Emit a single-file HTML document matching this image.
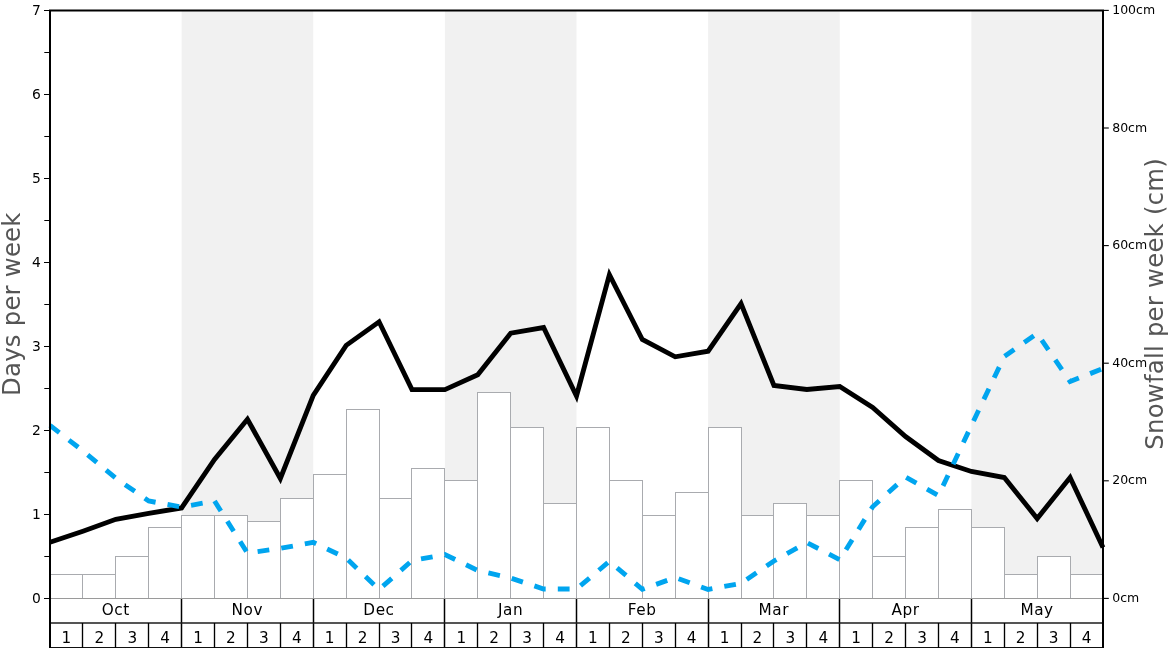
<!DOCTYPE html>
<html><head><meta charset="utf-8"><title>Snowfall chart</title>
<style>html,body{margin:0;padding:0;background:#fff;overflow:hidden}svg{display:block}</style></head>
<body>
<svg width="1168" height="648" viewBox="0 0 1168 648" font-family="'DejaVu Sans', 'Liberation Sans', sans-serif">
<rect width="1168" height="648" fill="#fff"/>
<rect x="181.62" y="10" width="131.62" height="588.40" fill="#f1f1f1"/>
<rect x="444.88" y="10" width="131.62" height="588.40" fill="#f1f1f1"/>
<rect x="708.12" y="10" width="131.62" height="588.40" fill="#f1f1f1"/>
<rect x="971.38" y="10" width="131.62" height="588.40" fill="#f1f1f1"/>
<rect x="50.5" y="574.5" width="32.0" height="24.0" fill="#fff" stroke="#a9abaf" stroke-width="1"/>
<rect x="82.5" y="574.5" width="33.0" height="24.0" fill="#fff" stroke="#a9abaf" stroke-width="1"/>
<rect x="115.5" y="556.5" width="33.0" height="42.0" fill="#fff" stroke="#a9abaf" stroke-width="1"/>
<rect x="148.5" y="527.5" width="33.0" height="71.0" fill="#fff" stroke="#a9abaf" stroke-width="1"/>
<rect x="181.5" y="515.5" width="33.0" height="83.0" fill="#fff" stroke="#a9abaf" stroke-width="1"/>
<rect x="214.5" y="515.5" width="33.0" height="83.0" fill="#fff" stroke="#a9abaf" stroke-width="1"/>
<rect x="247.5" y="521.5" width="33.0" height="77.0" fill="#fff" stroke="#a9abaf" stroke-width="1"/>
<rect x="280.5" y="498.5" width="33.0" height="100.0" fill="#fff" stroke="#a9abaf" stroke-width="1"/>
<rect x="313.5" y="474.5" width="33.0" height="124.0" fill="#fff" stroke="#a9abaf" stroke-width="1"/>
<rect x="346.5" y="409.5" width="33.0" height="189.0" fill="#fff" stroke="#a9abaf" stroke-width="1"/>
<rect x="379.5" y="498.5" width="32.0" height="100.0" fill="#fff" stroke="#a9abaf" stroke-width="1"/>
<rect x="411.5" y="468.5" width="33.0" height="130.0" fill="#fff" stroke="#a9abaf" stroke-width="1"/>
<rect x="444.5" y="480.5" width="33.0" height="118.0" fill="#fff" stroke="#a9abaf" stroke-width="1"/>
<rect x="477.5" y="392.5" width="33.0" height="206.0" fill="#fff" stroke="#a9abaf" stroke-width="1"/>
<rect x="510.5" y="427.5" width="33.0" height="171.0" fill="#fff" stroke="#a9abaf" stroke-width="1"/>
<rect x="543.5" y="503.5" width="33.0" height="95.0" fill="#fff" stroke="#a9abaf" stroke-width="1"/>
<rect x="576.5" y="427.5" width="33.0" height="171.0" fill="#fff" stroke="#a9abaf" stroke-width="1"/>
<rect x="609.5" y="480.5" width="33.0" height="118.0" fill="#fff" stroke="#a9abaf" stroke-width="1"/>
<rect x="642.5" y="515.5" width="33.0" height="83.0" fill="#fff" stroke="#a9abaf" stroke-width="1"/>
<rect x="675.5" y="492.5" width="33.0" height="106.0" fill="#fff" stroke="#a9abaf" stroke-width="1"/>
<rect x="708.5" y="427.5" width="33.0" height="171.0" fill="#fff" stroke="#a9abaf" stroke-width="1"/>
<rect x="741.5" y="515.5" width="32.0" height="83.0" fill="#fff" stroke="#a9abaf" stroke-width="1"/>
<rect x="773.5" y="503.5" width="33.0" height="95.0" fill="#fff" stroke="#a9abaf" stroke-width="1"/>
<rect x="806.5" y="515.5" width="33.0" height="83.0" fill="#fff" stroke="#a9abaf" stroke-width="1"/>
<rect x="839.5" y="480.5" width="33.0" height="118.0" fill="#fff" stroke="#a9abaf" stroke-width="1"/>
<rect x="872.5" y="556.5" width="33.0" height="42.0" fill="#fff" stroke="#a9abaf" stroke-width="1"/>
<rect x="905.5" y="527.5" width="33.0" height="71.0" fill="#fff" stroke="#a9abaf" stroke-width="1"/>
<rect x="938.5" y="509.5" width="33.0" height="89.0" fill="#fff" stroke="#a9abaf" stroke-width="1"/>
<rect x="971.5" y="527.5" width="33.0" height="71.0" fill="#fff" stroke="#a9abaf" stroke-width="1"/>
<rect x="1004.5" y="574.5" width="33.0" height="24.0" fill="#fff" stroke="#a9abaf" stroke-width="1"/>
<rect x="1037.5" y="556.5" width="33.0" height="42.0" fill="#fff" stroke="#a9abaf" stroke-width="1"/>
<rect x="1070.5" y="574.5" width="33.0" height="24.0" fill="#fff" stroke="#a9abaf" stroke-width="1"/>
<line x1="50.0" x2="1103.0" y1="598.5" y2="598.5" stroke="#9a9a9a" stroke-width="1"/>
<rect x="50.0" y="599" width="1053.0" height="49" fill="#fff"/>
<line x1="181.5" x2="181.5" y1="599" y2="648" stroke="#000" stroke-width="1.5"/>
<line x1="313.5" x2="313.5" y1="599" y2="648" stroke="#000" stroke-width="1.5"/>
<line x1="444.5" x2="444.5" y1="599" y2="648" stroke="#000" stroke-width="1.5"/>
<line x1="576.5" x2="576.5" y1="599" y2="648" stroke="#000" stroke-width="1.5"/>
<line x1="708.5" x2="708.5" y1="599" y2="648" stroke="#000" stroke-width="1.5"/>
<line x1="839.5" x2="839.5" y1="599" y2="648" stroke="#000" stroke-width="1.5"/>
<line x1="971.5" x2="971.5" y1="599" y2="648" stroke="#000" stroke-width="1.5"/>
<line x1="50.0" x2="1103.0" y1="623.0" y2="623.0" stroke="#1c1c1c" stroke-width="1.7"/>
<line x1="50.0" x2="1103.0" y1="647.5" y2="647.5" stroke="#111" stroke-width="1"/>
<line x1="82.5" x2="82.5" y1="623.0" y2="648" stroke="#000" stroke-width="1.35"/>
<line x1="115.5" x2="115.5" y1="623.0" y2="648" stroke="#000" stroke-width="1.35"/>
<line x1="148.5" x2="148.5" y1="623.0" y2="648" stroke="#000" stroke-width="1.35"/>
<line x1="214.5" x2="214.5" y1="623.0" y2="648" stroke="#000" stroke-width="1.35"/>
<line x1="247.5" x2="247.5" y1="623.0" y2="648" stroke="#000" stroke-width="1.35"/>
<line x1="280.5" x2="280.5" y1="623.0" y2="648" stroke="#000" stroke-width="1.35"/>
<line x1="346.5" x2="346.5" y1="623.0" y2="648" stroke="#000" stroke-width="1.35"/>
<line x1="379.5" x2="379.5" y1="623.0" y2="648" stroke="#000" stroke-width="1.35"/>
<line x1="411.5" x2="411.5" y1="623.0" y2="648" stroke="#000" stroke-width="1.35"/>
<line x1="477.5" x2="477.5" y1="623.0" y2="648" stroke="#000" stroke-width="1.35"/>
<line x1="510.5" x2="510.5" y1="623.0" y2="648" stroke="#000" stroke-width="1.35"/>
<line x1="543.5" x2="543.5" y1="623.0" y2="648" stroke="#000" stroke-width="1.35"/>
<line x1="609.5" x2="609.5" y1="623.0" y2="648" stroke="#000" stroke-width="1.35"/>
<line x1="642.5" x2="642.5" y1="623.0" y2="648" stroke="#000" stroke-width="1.35"/>
<line x1="675.5" x2="675.5" y1="623.0" y2="648" stroke="#000" stroke-width="1.35"/>
<line x1="741.5" x2="741.5" y1="623.0" y2="648" stroke="#000" stroke-width="1.35"/>
<line x1="773.5" x2="773.5" y1="623.0" y2="648" stroke="#000" stroke-width="1.35"/>
<line x1="806.5" x2="806.5" y1="623.0" y2="648" stroke="#000" stroke-width="1.35"/>
<line x1="872.5" x2="872.5" y1="623.0" y2="648" stroke="#000" stroke-width="1.35"/>
<line x1="905.5" x2="905.5" y1="623.0" y2="648" stroke="#000" stroke-width="1.35"/>
<line x1="938.5" x2="938.5" y1="623.0" y2="648" stroke="#000" stroke-width="1.35"/>
<line x1="1004.5" x2="1004.5" y1="623.0" y2="648" stroke="#000" stroke-width="1.35"/>
<line x1="1037.5" x2="1037.5" y1="623.0" y2="648" stroke="#000" stroke-width="1.35"/>
<line x1="1070.5" x2="1070.5" y1="623.0" y2="648" stroke="#000" stroke-width="1.35"/>
<text x="115.71" y="615.3" font-size="15.28" letter-spacing="0.55" text-anchor="middle" fill="#000">Oct</text>
<text x="247.34" y="615.3" font-size="15.28" letter-spacing="0.55" text-anchor="middle" fill="#000">Nov</text>
<text x="378.96" y="615.3" font-size="15.28" letter-spacing="0.55" text-anchor="middle" fill="#000">Dec</text>
<text x="510.59" y="615.3" font-size="15.28" letter-spacing="0.55" text-anchor="middle" fill="#000">Jan</text>
<text x="642.21" y="615.3" font-size="15.28" letter-spacing="0.55" text-anchor="middle" fill="#000">Feb</text>
<text x="773.84" y="615.3" font-size="15.28" letter-spacing="0.55" text-anchor="middle" fill="#000">Mar</text>
<text x="905.46" y="615.3" font-size="15.28" letter-spacing="0.55" text-anchor="middle" fill="#000">Apr</text>
<text x="1037.09" y="615.3" font-size="15.28" letter-spacing="0.55" text-anchor="middle" fill="#000">May</text>
<text x="66.45" y="642.5" font-size="15.28" text-anchor="middle" fill="#000">1</text>
<text x="99.36" y="642.5" font-size="15.28" text-anchor="middle" fill="#000">2</text>
<text x="132.27" y="642.5" font-size="15.28" text-anchor="middle" fill="#000">3</text>
<text x="165.17" y="642.5" font-size="15.28" text-anchor="middle" fill="#000">4</text>
<text x="198.08" y="642.5" font-size="15.28" text-anchor="middle" fill="#000">1</text>
<text x="230.98" y="642.5" font-size="15.28" text-anchor="middle" fill="#000">2</text>
<text x="263.89" y="642.5" font-size="15.28" text-anchor="middle" fill="#000">3</text>
<text x="296.80" y="642.5" font-size="15.28" text-anchor="middle" fill="#000">4</text>
<text x="329.70" y="642.5" font-size="15.28" text-anchor="middle" fill="#000">1</text>
<text x="362.61" y="642.5" font-size="15.28" text-anchor="middle" fill="#000">2</text>
<text x="395.52" y="642.5" font-size="15.28" text-anchor="middle" fill="#000">3</text>
<text x="428.42" y="642.5" font-size="15.28" text-anchor="middle" fill="#000">4</text>
<text x="461.33" y="642.5" font-size="15.28" text-anchor="middle" fill="#000">1</text>
<text x="494.23" y="642.5" font-size="15.28" text-anchor="middle" fill="#000">2</text>
<text x="527.14" y="642.5" font-size="15.28" text-anchor="middle" fill="#000">3</text>
<text x="560.05" y="642.5" font-size="15.28" text-anchor="middle" fill="#000">4</text>
<text x="592.95" y="642.5" font-size="15.28" text-anchor="middle" fill="#000">1</text>
<text x="625.86" y="642.5" font-size="15.28" text-anchor="middle" fill="#000">2</text>
<text x="658.77" y="642.5" font-size="15.28" text-anchor="middle" fill="#000">3</text>
<text x="691.67" y="642.5" font-size="15.28" text-anchor="middle" fill="#000">4</text>
<text x="724.58" y="642.5" font-size="15.28" text-anchor="middle" fill="#000">1</text>
<text x="757.48" y="642.5" font-size="15.28" text-anchor="middle" fill="#000">2</text>
<text x="790.39" y="642.5" font-size="15.28" text-anchor="middle" fill="#000">3</text>
<text x="823.30" y="642.5" font-size="15.28" text-anchor="middle" fill="#000">4</text>
<text x="856.20" y="642.5" font-size="15.28" text-anchor="middle" fill="#000">1</text>
<text x="889.11" y="642.5" font-size="15.28" text-anchor="middle" fill="#000">2</text>
<text x="922.02" y="642.5" font-size="15.28" text-anchor="middle" fill="#000">3</text>
<text x="954.92" y="642.5" font-size="15.28" text-anchor="middle" fill="#000">4</text>
<text x="987.83" y="642.5" font-size="15.28" text-anchor="middle" fill="#000">1</text>
<text x="1020.73" y="642.5" font-size="15.28" text-anchor="middle" fill="#000">2</text>
<text x="1053.64" y="642.5" font-size="15.28" text-anchor="middle" fill="#000">3</text>
<text x="1086.55" y="642.5" font-size="15.28" text-anchor="middle" fill="#000">4</text>
<polyline points="50.00,542.30 82.91,531.20 115.81,519.30 148.72,513.30 181.62,507.90 214.53,459.40 247.44,419.20 280.34,478.50 313.25,395.40 346.16,345.40 379.06,321.80 411.97,389.60 444.88,389.60 477.78,374.80 510.69,333.20 543.59,327.50 576.50,396.00 609.41,274.70 642.31,339.50 675.22,356.80 708.12,351.20 741.03,303.50 773.94,385.50 806.84,389.50 839.75,386.50 872.66,407.50 905.56,436.50 938.47,460.50 971.38,471.50 1004.28,477.50 1037.19,518.50 1070.09,477.50 1103.00,547.50" fill="none" stroke="#000" stroke-width="4.86" stroke-linejoin="miter" stroke-miterlimit="10"/>
<polyline points="50.00,425.40 82.91,450.90 115.81,478.20 148.72,501.00 181.62,507.00 214.53,501.00 247.44,553.00 280.34,548.40 313.25,542.40 346.16,558.00 379.06,589.50 411.97,560.60 444.88,554.50 477.78,570.50 510.69,578.00 543.59,589.00 576.50,589.00 609.41,561.30 642.31,589.30 675.22,577.50 708.12,589.50 741.03,583.30 773.94,561.00 806.84,542.50 839.75,559.80 872.66,506.70 905.56,477.00 938.47,495.60 971.38,425.50 1004.28,356.50 1037.19,333.50 1070.09,381.60 1103.00,368.50" fill="none" stroke="#00a5ef" stroke-width="4.86" stroke-dasharray="11.8 12.12" stroke-linejoin="miter"/>
<path d="M50.0,649.5 V10.4 H1103.0 V649.5" fill="none" stroke="#000" stroke-width="2" stroke-linejoin="miter"/>
<line x1="44" x2="49.0" y1="598.5" y2="598.5" stroke="#000" stroke-width="1"/>
<text x="40.9" y="603.20" font-size="13.89" text-anchor="end" fill="#000">0</text>
<line x1="44.3" x2="49.0" y1="556.5" y2="556.5" stroke="#000" stroke-width="1"/>
<line x1="44" x2="49.0" y1="514.5" y2="514.5" stroke="#000" stroke-width="1"/>
<text x="40.9" y="519.20" font-size="13.89" text-anchor="end" fill="#000">1</text>
<line x1="44.3" x2="49.0" y1="472.5" y2="472.5" stroke="#000" stroke-width="1"/>
<line x1="44" x2="49.0" y1="430.5" y2="430.5" stroke="#000" stroke-width="1"/>
<text x="40.9" y="435.20" font-size="13.89" text-anchor="end" fill="#000">2</text>
<line x1="44.3" x2="49.0" y1="388.5" y2="388.5" stroke="#000" stroke-width="1"/>
<line x1="44" x2="49.0" y1="346.5" y2="346.5" stroke="#000" stroke-width="1"/>
<text x="40.9" y="351.20" font-size="13.89" text-anchor="end" fill="#000">3</text>
<line x1="44.3" x2="49.0" y1="304.5" y2="304.5" stroke="#000" stroke-width="1"/>
<line x1="44" x2="49.0" y1="262.5" y2="262.5" stroke="#000" stroke-width="1"/>
<text x="40.9" y="267.20" font-size="13.89" text-anchor="end" fill="#000">4</text>
<line x1="44.3" x2="49.0" y1="220.5" y2="220.5" stroke="#000" stroke-width="1"/>
<line x1="44" x2="49.0" y1="178.5" y2="178.5" stroke="#000" stroke-width="1"/>
<text x="40.9" y="183.20" font-size="13.89" text-anchor="end" fill="#000">5</text>
<line x1="44.3" x2="49.0" y1="136.5" y2="136.5" stroke="#000" stroke-width="1"/>
<line x1="44" x2="49.0" y1="94.5" y2="94.5" stroke="#000" stroke-width="1"/>
<text x="40.9" y="99.20" font-size="13.89" text-anchor="end" fill="#000">6</text>
<line x1="44.3" x2="49.0" y1="52.5" y2="52.5" stroke="#000" stroke-width="1"/>
<line x1="44" x2="49.0" y1="10.5" y2="10.5" stroke="#000" stroke-width="1"/>
<text x="40.9" y="15.20" font-size="13.89" text-anchor="end" fill="#000">7</text>
<line x1="1104.0" x2="1108.80" y1="598.40" y2="598.40" stroke="#000" stroke-width="1.1"/>
<text x="1112.2" y="602.05" font-size="12.5" fill="#000">0cm</text>
<line x1="1104.0" x2="1108.80" y1="480.80" y2="480.80" stroke="#000" stroke-width="1.1"/>
<text x="1112.2" y="484.45" font-size="12.5" fill="#000">20cm</text>
<line x1="1104.0" x2="1108.80" y1="363.20" y2="363.20" stroke="#000" stroke-width="1.1"/>
<text x="1112.2" y="366.85" font-size="12.5" fill="#000">40cm</text>
<line x1="1104.0" x2="1108.80" y1="245.60" y2="245.60" stroke="#000" stroke-width="1.1"/>
<text x="1112.2" y="249.25" font-size="12.5" fill="#000">60cm</text>
<line x1="1104.0" x2="1108.80" y1="128.00" y2="128.00" stroke="#000" stroke-width="1.1"/>
<text x="1112.2" y="131.65" font-size="12.5" fill="#000">80cm</text>
<line x1="1104.0" x2="1108.80" y1="10.40" y2="10.40" stroke="#000" stroke-width="1.1"/>
<text x="1112.2" y="14.05" font-size="12.5" fill="#000">100cm</text>
<text transform="translate(20.3,395.9) rotate(-90)" font-size="24.3" letter-spacing="0.25" fill="#555">Days per week</text>
<text transform="translate(1163.2,449.65) rotate(-90)" font-size="24.3" letter-spacing="0.26" fill="#555">Snowfall per week (cm)</text>
</svg>
</body></html>
